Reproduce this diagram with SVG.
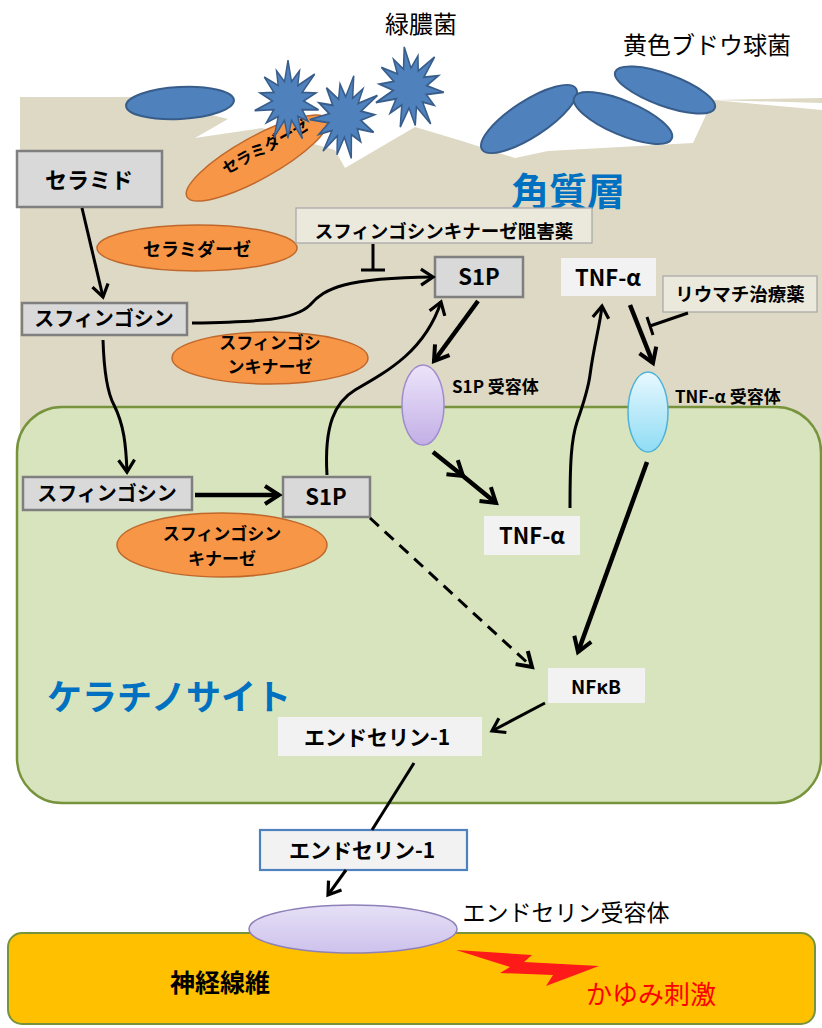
<svg xmlns="http://www.w3.org/2000/svg" xmlns:xlink="http://www.w3.org/1999/xlink" width="822" height="1028" viewBox="0 0 822 1028">
  <defs>
    <style>
      .t { font-family: "Noto Sans CJK JP", "Noto Sans", sans-serif; fill: #000; text-anchor: middle; }
      .b { font-weight: bold; }
      .gbox { fill: #d9d9d9; stroke: #7f7f7f; stroke-width: 2.5; }
      .wbox { fill: #f2f2f2; }
      .note { fill: #ebe8dc; stroke: #a6a6a6; stroke-width: 1.2; }
      .enz { fill: #f79646; stroke: #c0682c; stroke-width: 1.5; }
      .bact { fill: #4f81bd; stroke: #385d8a; stroke-width: 2; }
      .star { fill: #4f81bd; stroke: #385d8a; stroke-width: 1.5; }
      .ln { fill: none; stroke: #000; stroke-width: 3; }
      .thick { stroke-width: 4.5; }
      .title { font-family: "Noto Sans CJK JP", sans-serif; font-weight: bold; fill: #0070c0; text-anchor: middle; }
    </style>
    <linearGradient id="gS1PR" x1="0" y1="0" x2="0" y2="1">
      <stop offset="0" stop-color="#ece4fa"/>
      <stop offset="1" stop-color="#c3afe6"/>
    </linearGradient>
    <linearGradient id="gTNFR" x1="0" y1="0" x2="0" y2="1">
      <stop offset="0" stop-color="#e8f8fe"/>
      <stop offset="1" stop-color="#8fdcf5"/>
    </linearGradient>
    <linearGradient id="gETR" x1="0" y1="0" x2="0" y2="1">
      <stop offset="0" stop-color="#e6e0f6"/>
      <stop offset="1" stop-color="#cdc2ec"/>
    </linearGradient>
    <!-- irregular spiky bacterium -->
    <path id="spiky" d="M0,-34 L3.7,-16.1 L12.1,-25.2 L10.3,-12.9 L28.1,-22.4 L14.9,-7.2 L29.2,-6.7 L16.5,0 L32.2,7.3 L14.9,7.2 L21.1,16.8 L10.3,12.9 L15.2,31.5 L3.7,16.1 L0,31 L-3.7,16.1 L-14.8,30.6 L-10.3,12.9 L-22.7,18.1 L-14.9,7.2 L-35.1,8 L-16.5,0 L-29.2,-6.7 L-14.9,-7.2 L-25,-20 L-10.3,-12.9 L-12.1,-25.2 L-3.7,-16.1 Z"/>
    <marker id="arr" markerUnits="userSpaceOnUse" markerWidth="26" markerHeight="26" viewBox="0 0 26 26" refX="21" refY="13" orient="auto" overflow="visible">
      <path d="M7,4 L21,13 L7,22" fill="none" stroke="#000" stroke-width="4"/>
    </marker>
    <marker id="arrS" markerUnits="userSpaceOnUse" markerWidth="22" markerHeight="22" viewBox="0 0 22 22" refX="18" refY="11" orient="auto" overflow="visible">
      <path d="M6,3 L18,11 L6,19" fill="none" stroke="#000" stroke-width="3.2"/>
    </marker>
  </defs>

  <rect width="822" height="1028" fill="#ffffff"/>

  <!-- stratum corneum layer with jagged surface -->
  <g id="stratum-corneum">
    <path d="M20,97 L140,97 L228,119 L195,138 L262,128 L300,140 L335,150 L345,168 L415,127 L462,141 L515,158 L548,151 L693,143 L713,100 L822,98 L822,460 L20,460 Z" fill="#ddd9c4"/>
    <path d="M713,100 L822,103 L822,110 Z" fill="#ffffff"/>
    <text class="title" x="568" y="205" font-size="38">角質層</text>
  </g>

  <!-- keratinocyte -->
  <g id="keratinocyte">
    <rect x="17" y="407" width="804" height="396" rx="45" ry="45" fill="#d7e4bd" stroke="#77933c" stroke-width="2.5"/>
    <text class="title" x="169" y="710" font-size="35">ケラチノサイト</text>
  </g>

  <!-- nerve fiber -->
  <g id="nerve-fiber">
    <rect x="8" y="933" width="807" height="91" rx="14" ry="14" fill="#ffc000" stroke="#77933c" stroke-width="2"/>
    <text class="t b" x="220" y="992" font-size="25">神経線維</text>
    <polygon points="456,950 532,955 524,962 599,966 546,986 553,975 500,973 510,967" fill="#ff1a1a"/>
    <text class="t" x="651" y="1004" font-size="26" style="fill:#ff0000">かゆみ刺激</text>
  </g>

  <!-- ceramidase on the skin surface -->
  <g id="surface-ceramidase">
    <ellipse cx="257" cy="158" rx="80" ry="21" transform="rotate(-29 257 158)" class="enz"/>
    <text class="t b" x="226" y="175" font-size="16" style="text-anchor:start" transform="rotate(-29 226 175)">セラミダーゼ</text>
  </g>

  <!-- Pseudomonas aeruginosa -->
  <g id="pseudomonas">
    <use xlink:href="#spiky" href="#spiky" class="star" transform="translate(288,101) scale(0.95,1.2)"/>
    <use xlink:href="#spiky" href="#spiky" class="star" transform="translate(345,117) rotate(12) scale(0.97,1.24)"/>
    <use xlink:href="#spiky" href="#spiky" class="star" transform="translate(410,88) rotate(-8) scale(1.02,1.22)"/>
    <text class="t" x="421" y="33" font-size="24">緑膿菌</text>
  </g>

  <!-- Staphylococcus aureus and other surface bacteria -->
  <g id="staphylococcus">
    <ellipse cx="180" cy="103" rx="54" ry="16" transform="rotate(-3 180 103)" class="bact"/>
    <ellipse cx="529" cy="119" rx="56" ry="18" transform="rotate(-33 529 119)" class="bact"/>
    <ellipse cx="623" cy="118" rx="53" ry="17" transform="rotate(23 623 118)" class="bact"/>
    <ellipse cx="665" cy="90" rx="53" ry="16" transform="rotate(20 665 90)" class="bact"/>
    <text class="t" x="707" y="54" font-size="24">黄色ブドウ球菌</text>
  </g>

  <g id="ceramide">
    <rect x="17" y="151" width="145" height="56" class="gbox"/>
    <text class="t b" x="89" y="188" font-size="22">セラミド</text>
  </g>

  <g id="ceramidase">
    <ellipse cx="197" cy="248" rx="100" ry="23" class="enz"/>
    <text class="t b" x="197" y="256" font-size="18">セラミダーゼ</text>
  </g>

  <g id="sk-inhibitor">
    <rect x="296" y="208" width="296" height="35" class="note"/>
    <text class="t b" x="444" y="238" font-size="18.5">スフィンゴシンキナーゼ阻害薬</text>
  </g>

  <g id="sphingosine-top">
    <rect x="22" y="303" width="165" height="32" class="gbox"/>
    <text class="t b" x="104" y="326" font-size="20">スフィンゴシン</text>
  </g>

  <g id="sk-top">
    <ellipse cx="270" cy="358" rx="98" ry="26" class="enz"/>
    <text class="t b" x="270" y="349" font-size="17">スフィンゴシ</text>
    <text class="t b" x="270" y="373" font-size="17">ンキナーゼ</text>
  </g>

  <g id="s1p-top">
    <rect x="435" y="257" width="88" height="40" class="gbox"/>
    <text class="t b" x="479" y="285" font-size="22">S1P</text>
  </g>

  <g id="tnf-top">
    <rect x="561" y="258" width="95" height="38" class="wbox"/>
    <text class="t b" x="608" y="286" font-size="22">TNF-α</text>
  </g>

  <g id="ra-drug">
    <rect x="663" y="276" width="154" height="36" class="note"/>
    <text class="t b" x="740" y="301" font-size="18.5">リウマチ治療薬</text>
  </g>

  <g id="s1p-receptor">
    <ellipse cx="423" cy="405" rx="21" ry="40" fill="url(#gS1PR)" stroke="#9f8ccc" stroke-width="1.5"/>
    <text class="t b" x="452" y="393" font-size="17" style="text-anchor:start">S1P 受容体</text>
  </g>

  <g id="tnf-receptor">
    <ellipse cx="648" cy="412" rx="20" ry="40" fill="url(#gTNFR)" stroke="#4fb3d9" stroke-width="1.5"/>
    <text class="t b" x="675" y="403" font-size="17" style="text-anchor:start">TNF-α 受容体</text>
  </g>

  <g id="sphingosine-cell">
    <rect x="23" y="477" width="169" height="33" class="gbox"/>
    <text class="t b" x="107" y="501" font-size="20">スフィンゴシン</text>
  </g>

  <g id="s1p-cell">
    <rect x="283" y="477" width="87" height="40" class="gbox"/>
    <text class="t b" x="326" y="505" font-size="22">S1P</text>
  </g>

  <g id="sk-cell">
    <ellipse cx="222" cy="545" rx="105" ry="32" class="enz"/>
    <text class="t b" x="222" y="540" font-size="17">スフィンゴシン</text>
    <text class="t b" x="222" y="565" font-size="17">キナーゼ</text>
  </g>

  <g id="tnf-cell">
    <rect x="484" y="516" width="96" height="39" class="wbox"/>
    <text class="t b" x="532" y="544" font-size="22">TNF-α</text>
  </g>

  <g id="nfkb">
    <rect x="548" y="668" width="97" height="35" class="wbox"/>
    <text class="t b" x="596" y="694" font-size="19">NFκB</text>
  </g>

  <g id="endothelin-cell">
    <rect x="278" y="717" width="204" height="39" class="wbox"/>
    <text class="t b" x="377" y="745" font-size="21">エンドセリン-1</text>
  </g>

  <g id="endothelin-released">
    <rect x="260" y="830" width="207" height="40" fill="#f2f2f2" stroke="#4f81bd" stroke-width="2.2"/>
    <text class="t b" x="362" y="858" font-size="21">エンドセリン-1</text>
  </g>

  <g id="endothelin-receptor">
    <ellipse cx="353" cy="929" rx="104" ry="24" fill="url(#gETR)" stroke="#8e80b8" stroke-width="1.5"/>
    <text class="t" x="566" y="921" font-size="23">エンドセリン受容体</text>
  </g>

  <!-- connectors -->
  <g id="connectors">
    <path class="ln" d="M82,208 L103,297" marker-end="url(#arrS)"/>
    <path class="ln" d="M192,323 C260,322 295,320 310,305 C325,288 345,278 433,277" marker-end="url(#arrS)"/>
    <path class="ln" d="M373,244 L373,270 M361,270 L385,270"/>
    <path class="ln" d="M103,340 C104,372 107,392 114,405 C124,425 126,445 127,472" marker-end="url(#arrS)"/>
    <path class="ln thick" d="M195,495 L279,495" marker-end="url(#arr)"/>
    <path class="ln" d="M327,475 C324,425 335,402 355,390 C390,370 425,350 441,302" marker-end="url(#arrS)"/>
    <path class="ln thick" d="M478,301 L434,361" marker-end="url(#arr)"/>
    <path class="ln thick" d="M433,452 L463,476 L496,503" marker-mid="url(#arr)" marker-end="url(#arr)"/>
    <path class="ln" d="M570,508 C570,465 571,440 577,422 C584,402 588,390 590,375 C594,345 600,325 602,306" marker-end="url(#arrS)"/>
    <path class="ln thick" d="M630,305 L653,363" marker-end="url(#arr)"/>
    <path class="ln" d="M688,313 L650,326 M647,317 L653,335"/>
    <path class="ln thick" d="M647,462 L578,652" marker-end="url(#arr)"/>
    <path class="ln" d="M370,518 L532,667" stroke-width="4" stroke-dasharray="12,8" marker-end="url(#arr)"/>
    <path class="ln" d="M545,703 L492,731" stroke-width="3.5" marker-end="url(#arrS)"/>
    <path class="ln" d="M414,763 L372,830"/>
    <path class="ln" d="M346,870 L328,895" stroke-width="3.5" marker-end="url(#arrS)"/>
  </g>
</svg>
